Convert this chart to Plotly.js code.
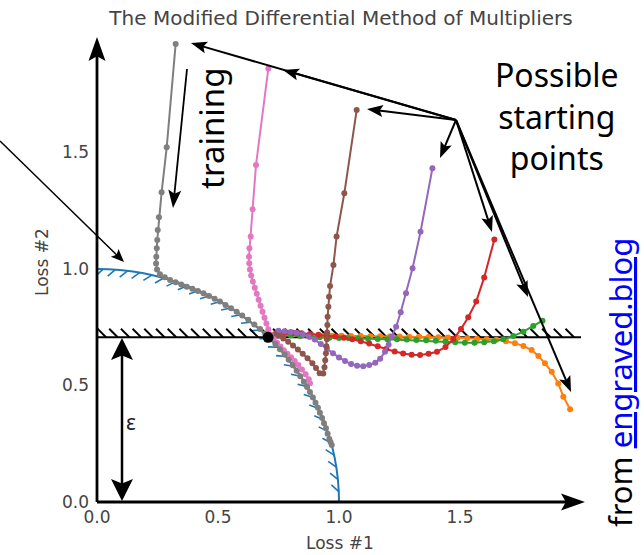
<!DOCTYPE html>
<html><head><meta charset="utf-8">
<script src="https://cdn.plot.ly/plotly-3.0.1.min.js"></script>
<style>html,body{margin:0;padding:0;background:#fff}#chart{width:644px;height:555px}</style>
</head><body><div id="chart"></div>
<script>
// ---------------- data ----------------
const tickVals = [0, 0.5, 1.0, 1.5];
const tickText = ['0.0', '0.5', '1.0', '1.5'];
const epsilon = 0.707;
const paretoX = [0.707];
const paretoY = [0.707];

const orangeX = [1.955, 1.927, 1.906, 1.879, 1.851, 1.824, 1.796, 1.762, 1.727, 1.690, 1.650, 1.610, 1.570, 1.530, 1.490, 1.450, 1.410, 1.370, 1.330, 1.290, 1.250, 1.210, 1.170, 1.130, 1.090, 1.050, 1.010, 0.970, 0.930, 0.890, 0.850, 0.810, 0.775, 0.745];
const orangeY = [0.398, 0.452, 0.509, 0.559, 0.595, 0.627, 0.652, 0.670, 0.681, 0.690, 0.696, 0.699, 0.701, 0.703, 0.705, 0.706, 0.707, 0.708, 0.709, 0.709, 0.710, 0.710, 0.711, 0.711, 0.712, 0.712, 0.713, 0.713, 0.714, 0.715, 0.717, 0.719, 0.722, 0.725];

const greenX = [1.841, 1.803, 1.762, 1.720, 1.679, 1.640, 1.600, 1.560, 1.520, 1.480, 1.440, 1.400, 1.360, 1.320, 1.280, 1.240, 1.200, 1.160, 1.120, 1.080, 1.040, 1.000, 0.960, 0.920, 0.880, 0.840, 0.800, 0.765];
const greenY = [0.778, 0.755, 0.731, 0.712, 0.698, 0.690, 0.686, 0.684, 0.684, 0.686, 0.689, 0.692, 0.694, 0.695, 0.697, 0.698, 0.699, 0.700, 0.701, 0.702, 0.703, 0.704, 0.705, 0.707, 0.709, 0.712, 0.716, 0.720];

const redX = [1.642, 1.600, 1.567, 1.534, 1.504, 1.472, 1.440, 1.405, 1.370, 1.335, 1.300, 1.265, 1.230, 1.195, 1.160, 1.125, 1.090, 1.055, 1.020, 0.985, 0.950, 0.915, 0.880, 0.845, 0.810, 0.775, 0.745];
const redY = [1.127, 0.964, 0.860, 0.793, 0.742, 0.698, 0.665, 0.645, 0.636, 0.631, 0.632, 0.637, 0.646, 0.657, 0.668, 0.680, 0.690, 0.698, 0.705, 0.710, 0.714, 0.718, 0.721, 0.724, 0.726, 0.728, 0.730];

const purpleX = [1.386, 1.337, 1.304, 1.277, 1.255, 1.236, 1.218, 1.205, 1.190, 1.170, 1.150, 1.125, 1.100, 1.075, 1.050, 1.025, 1.000, 0.975, 0.950, 0.925, 0.900, 0.875, 0.850, 0.825, 0.800, 0.775, 0.750];
const purpleY = [1.432, 1.160, 1.003, 0.896, 0.814, 0.752, 0.710, 0.675, 0.645, 0.615, 0.598, 0.588, 0.583, 0.585, 0.592, 0.605, 0.620, 0.638, 0.658, 0.678, 0.697, 0.710, 0.720, 0.726, 0.730, 0.733, 0.735];

const brownX = [1.073, 1.022, 0.990, 0.977, 0.963, 0.959, 0.956, 0.953, 0.952, 0.951, 0.950, 0.948, 0.946, 0.943, 0.940, 0.935, 0.920, 0.905, 0.890, 0.870, 0.850, 0.830, 0.810, 0.790, 0.770, 0.750, 0.735];
const brownY = [1.682, 1.325, 1.139, 1.017, 0.927, 0.881, 0.838, 0.795, 0.760, 0.728, 0.698, 0.668, 0.638, 0.608, 0.578, 0.552, 0.553, 0.575, 0.595, 0.617, 0.636, 0.655, 0.672, 0.688, 0.702, 0.713, 0.720];

const pinkX = [0.708, 0.657, 0.643, 0.635, 0.630, 0.628, 0.629, 0.632, 0.637, 0.644, 0.652, 0.660, 0.668, 0.676, 0.684, 0.692, 0.700, 0.708, 0.718, 0.730, 0.744, 0.758, 0.772, 0.787, 0.802, 0.817, 0.832, 0.847, 0.862, 0.875, 0.880];
const pinkY = [1.861, 1.446, 1.256, 1.139, 1.089, 1.053, 1.025, 0.998, 0.972, 0.946, 0.920, 0.894, 0.868, 0.842, 0.816, 0.791, 0.766, 0.741, 0.718, 0.700, 0.683, 0.667, 0.651, 0.636, 0.621, 0.605, 0.588, 0.569, 0.548, 0.527, 0.510];

const greyX = [0.325, 0.288, 0.267, 0.256, 0.251, 0.249, 0.247, 0.245, 0.244, 0.248, 0.260, 0.280, 0.302, 0.325, 0.348, 0.371, 0.394, 0.417, 0.440, 0.463, 0.486, 0.508, 0.531, 0.554, 0.577, 0.600, 0.625, 0.650, 0.674, 0.695, 0.716, 0.737, 0.756, 0.775, 0.792, 0.809, 0.825, 0.840, 0.855, 0.868, 0.880, 0.892, 0.903, 0.913, 0.921, 0.930, 0.938, 0.946, 0.953, 0.960, 0.965, 0.970];
const greyY = [1.966, 1.522, 1.329, 1.222, 1.167, 1.124, 1.089, 1.053, 1.024, 0.998, 0.978, 0.965, 0.953, 0.943, 0.934, 0.924, 0.915, 0.906, 0.896, 0.884, 0.872, 0.860, 0.846, 0.832, 0.817, 0.800, 0.782, 0.762, 0.742, 0.722, 0.700, 0.678, 0.656, 0.633, 0.610, 0.587, 0.563, 0.540, 0.516, 0.494, 0.472, 0.449, 0.426, 0.404, 0.383, 0.360, 0.338, 0.316, 0.293, 0.270, 0.258, 0.245];

// ---------------- geometry ----------------
const FW = 644, FH = 555;
const ML = 97, MR = 15, MT = 13, MB = 53;
const PW = FW - ML - MR, PH = FH - MT - MB;
const UX = 242, UY = 233;           // pixels per data unit
const xMax = PW / UX, yMax = PH / UY;
const BASE = FH - MB;               // pixel row of y = 0
function P(px, py) { return [(px - ML) / PW, (BASE - py) / PH]; }

const C = {blue:'#1f77b4', orange:'#ff7f0e', green:'#2ca02c', red:'#d62728', purple:'#9467bd', brown:'#8c564b', pink:'#e377c2', grey:'#7f7f7f'};

// hatch ticks for the unit circle (inside), pixel-based spacing
function circleHatch(){
  const xs = [], ys = [];
  const L = 10, step = 12.3;
  let acc = 6, prev = null;
  for (let i = 0; i <= 4000; i++) {
    const th = Math.PI/2 * (1 - i/4000);
    const p = [UX*Math.cos(th), UY*Math.sin(th)];
    if (prev) {
      acc -= Math.hypot(p[0]-prev[0], p[1]-prev[1]);
      if (acc <= 0) {
        acc += step;
        let t = [UX*Math.sin(th), -UY*Math.cos(th)];
        const tn = Math.hypot(t[0], t[1]); t = [t[0]/tn, t[1]/tn];
        const n = [t[1], -t[0]];
        const d = [(n[0]-t[0])/Math.SQRT2*L, (n[1]-t[1])/Math.SQRT2*L];
        xs.push(p[0]/UX, (p[0]+d[0])/UX, null);
        ys.push(p[1]/UY, (p[1]+d[1])/UY, null);
      }
    }
    prev = p;
  }
  return {xs, ys};
}
function lineHatch(){
  const xs = [], ys = [];
  const L = 8.5, step = 11.7;
  const y0 = epsilon * UY;
  for (let x = 9; x <= 2.0*UX; x += step) {
    xs.push(x/UX, (x - L)/UX, null);
    ys.push(y0/UY, (y0 + L)/UY, null);
  }
  return {xs, ys};
}
const ch = circleHatch(), lh = lineHatch();

function traj(x, y, col){
  return {x, y, type:'scatter', mode:'lines+markers', line:{color:col, width:2}, marker:{color:col, size:6}, hoverinfo:'skip', showlegend:false};
}

const data = [
  {x: ch.xs, y: ch.ys, type:'scatter', mode:'lines', line:{color:C.blue, width:1.6}, hoverinfo:'skip', showlegend:false},
  {x: [0, 2.0], y: [epsilon, epsilon], type:'scatter', mode:'lines', line:{color:'#000', width:2}, hoverinfo:'skip', showlegend:false},
  {x: lh.xs, y: lh.ys, type:'scatter', mode:'lines', line:{color:'#000', width:1.9}, hoverinfo:'skip', showlegend:false},
  traj(orangeX, orangeY, C.orange),
  traj(greenX, greenY, C.green),
  traj(redX, redY, C.red),
  traj(purpleX, purpleY, C.purple),
  traj(brownX, brownY, C.brown),
  traj(pinkX, pinkY, C.pink),
  traj(greyX, greyY, C.grey),
  {x: paretoX, y: paretoY, type:'scatter', mode:'markers', marker:{color:'#000', size:11}, hoverinfo:'skip', showlegend:false}
];

// ---------------- arrows as paper shapes ----------------
const shapes = [
  {type:'circle', xref:'x', yref:'y', x0:-1, y0:-1, x1:1, y1:1, line:{color:C.blue, width:2}, layer:'below'}
];
function head(tip, u, hl, hw){
  const n = [-u[1], u[0]];
  const cb = [tip[0]-u[0]*hl, tip[1]-u[1]*hl];
  const l = [cb[0]+n[0]*hw/2, cb[1]+n[1]*hw/2];
  const r = [cb[0]-n[0]*hw/2, cb[1]-n[1]*hw/2];
  const k = [tip[0]-u[0]*hl*0.8, tip[1]-u[1]*hl*0.8];
  const pts = [tip, l, k, r].map(p => P(p[0], p[1]));
  return {type:'path', xref:'paper', yref:'paper', layer:'above',
    path: 'M' + pts.map(p => p[0].toFixed(5) + ',' + p[1].toFixed(5)).join('L') + 'Z',
    fillcolor:'#000', line:{width:0}};
}
function arrow(t, h, w, hl, hw, both){
  const dx = h[0]-t[0], dy = h[1]-t[1], len = Math.hypot(dx, dy);
  const u = [dx/len, dy/len];
  const e = [h[0]-u[0]*hl*0.75, h[1]-u[1]*hl*0.75];
  const s = both ? [t[0]+u[0]*hl*0.75, t[1]+u[1]*hl*0.75] : t;
  const a = P(s[0], s[1]), b = P(e[0], e[1]);
  shapes.push({type:'line', xref:'paper', yref:'paper', layer:'above', x0:a[0], y0:a[1], x1:b[0], y1:b[1], line:{color:'#000', width:w}});
  shapes.push(head(h, u, hl, hw));
  if (both) shapes.push(head(t, [-u[0], -u[1]], hl, hw));
}
// axes
arrow([97, 502], [585, 502], 2.8, 24, 17);
arrow([97, 502], [97, 37], 2.8, 24, 17);
// epsilon
arrow([122, 338], [122, 501], 2.5, 22, 22, true);
// pointer to constraint
arrow([0, 141], [124, 262], 1.5, 13, 11);
// training
arrow([187, 69], [173, 208], 1.8, 18, 13);
// starting points
const hub = [456, 120];
[[191, 43], [283, 70], [367, 109], [440, 158], [492, 232], [528, 297], [571, 392]].forEach(h => arrow(hub, h, 2, 16, 12));

// ---------------- text ----------------
function txt(px, py, text, font, angle){
  const p = P(px, py);
  return {xref:'paper', yref:'paper', x:p[0], y:p[1], text, showarrow:false, xanchor:'center', yanchor:'middle', font, textangle: angle || 0};
}
const axFont = {family:'DejaVu Sans', size:17, color:'#444'};
const annFont = s => ({family:'Noto Sans', size:s, color:'#000'});
const annotations = [
  txt(340, 543, 'Loss #1', axFont),
  txt(42, 262, 'Loss #2', axFont, -90),
  txt(131, 422, 'ε', {family:'Noto Sans', size:21, color:'#222'}),
  txt(211, 128, 'training', annFont(33), -90),
  txt(557, 116, 'Possible<br>starting<br>points', annFont(32)),
  txt(620, 383, 'from <span style="color:#0000ff;text-decoration:underline">engraved.blog</span>', annFont(31), -90)
];

const layout = {
  width: FW, height: FH,
  margin: {l: ML, r: MR, t: MT, b: MB, pad: 0},
  paper_bgcolor: '#fff', plot_bgcolor: '#fff',
  showlegend: false,
  title: {text: 'The Modified Differential Method of Multipliers', font: {family:'DejaVu Sans', size:20, color:'#444'},
          xref:'container', yref:'container', x: 341/FW, y: 1 - 18/FH, xanchor:'center', yanchor:'middle'},
  xaxis: {range:[0, xMax], showgrid:false, zeroline:false, showline:false, ticks:'', tickvals: tickVals, ticktext: tickText,
          tickfont: axFont, ticklabelstandoff: 3, fixedrange:true},
  yaxis: {range:[0, yMax], showgrid:false, zeroline:false, showline:false, ticks:'', tickvals: tickVals, ticktext: tickText,
          tickfont: axFont, ticklabelstandoff: 7, fixedrange:true},
  shapes, annotations
};
Plotly.newPlot('chart', data, layout, {staticPlot:true, displayModeBar:false});
</script></body></html>
